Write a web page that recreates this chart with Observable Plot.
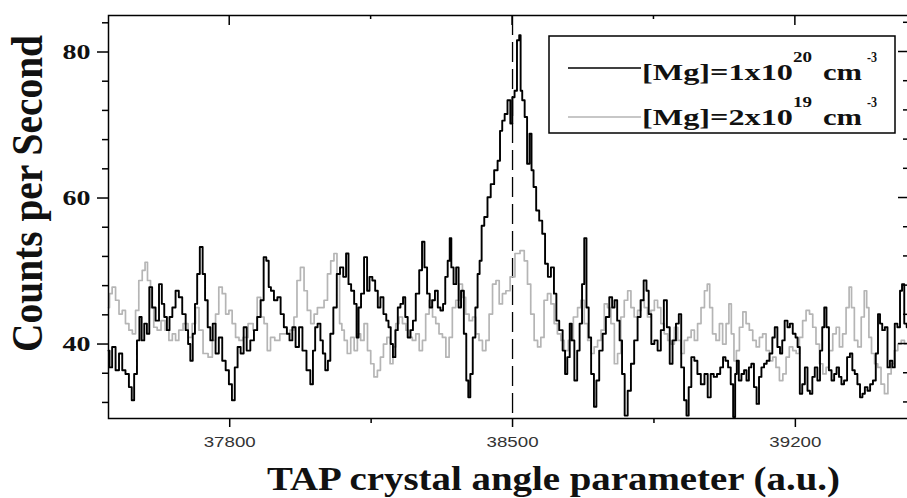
<!DOCTYPE html>
<html><head><meta charset="utf-8">
<script src="https://cdn.jsdelivr.net/npm/d3@7"></script>
<script src="https://cdn.jsdelivr.net/npm/@observablehq/plot@0.6"></script>
<style>
html,body{margin:0;padding:0;background:#fff;overflow:hidden}
#wrap{width:907px;height:498px;overflow:hidden;position:relative;background:#fff}
</style></head><body><div id="wrap"></div>
<script>
// ---- data ----
const blackAngle = [37500,37505,37513,37522,37530,37538,37546,37555,37560,37567,37574,37579,37585,37592,37598,37604,37612,37621,37629,37635,37641,37648,37654,37662,37670,37678,37687,37695,37699,37706,37711,37717,37722,37730,37736,37742,37749,37755,37761,37769,37777,37786,37794,37802,37809,37816,37823,37831,37838,37846,37856,37864,37872,37881,37887,37894,37899,37905,37914,37922,37930,37938,37945,37951,37959,37967,37976,37984,
37996,38003,38009,38014,38021,38028,38033,38040,38046,38052,38061,38069,38077,38085,38091,38097,38104,38112,38116,38122,38128,38137,38143,38149,38157,38163,38170,38176,38185,38190,38196,38201,38207,38213,38219,38226,38232,38237,38244,38251,38256,38265,38273,38279,38285,38292,38298,38304,38312,38318,38325,38331,38336,38343,38346,38351,38357,38364,38369,38376,38383,38388,38393,38398,38405,38411,38416,38421,
38426,38434,38442,38450,38459,38467,38471,38478,38483,38492,38497,38502,38508,38514,38519,38521,38527,38533,38539,38545,38549,38555,38562,38570,38577,
38584,38591,38599,38606,38611,38620,38628,38632,38639,38644,38649,38657,38663,38669,38675,38680,38686,38691,38698,38705,38710,38719,38727,38735,38744,38749,38756,38762,38768,38774,38781,38789,38797,38805,38814,38820,38829,38834,38840,38847,38855,38863,38871,38878,38886,38892,38900,38909,38914,38921,38928,38933,38939,38946,38954,38961,38971,38979,
38987,38994,39002,39010,39018,39024,39030,39037,39043,39049,39053,39057,39063,39070,39076,39082,39088,39094,39101,39107,39113,39119,39126,39132,39140,39146,39152,39159,39165,39170,39177,39184,39189,39198,39203,39208,39214,39220,39227,39233,39239,39245,39251,39258,39264,39269,39274,39280,39286,39293,39299,39305,39311,39317,39324,39332,39338,39344,39350,39357,39363,39369,39375,39382,39388,39396,39402,39407,39412,39418,39425,39431,39437,39443,39449,39456,39462,39466,39473,39478];
const blackCps = [39.1,36.8,39.6,36.4,38.7,36.4,35.9,34.1,32.3,35.9,40.5,43.7,40.5,42.8,41.4,47.8,45.0,43.2,48.2,45.5,43.7,41.9,43.7,45.0,47.3,46.4,44.1,41.9,40.0,37.7,41.4,45.5,49.6,53.3,49.6,46.0,42.3,40.5,42.8,38.7,40.9,37.7,36.4,34.5,32.3,36.8,39.6,38.7,42.3,39.1,40.5,41.9,43.7,46.0,51.9,51.4,47.8,47.3,46.0,46.4,44.1,42.3,41.4,40.5,42.3,39.6,42.3,39.1,
36.4,34.5,39.1,42.3,42.8,40.5,38.7,36.4,37.7,41.4,45.0,49.6,50.5,49.2,52.4,48.2,47.3,45.5,40.9,45.0,46.9,51.9,47.3,49.2,48.7,47.3,45.0,46.4,44.1,43.2,42.3,40.0,38.2,41.9,45.0,45.5,46.4,43.7,40.9,41.9,43.2,46.9,50.1,54.0,50.5,46.9,45.0,46.0,47.3,45.0,44.6,45.5,49.2,51.4,54.5,50.5,48.2,50.5,45.0,47.3,41.4,35.0,32.7,35.9,40.9,45.0,49.6,51.4,
56.2,57.4,60.1,61.9,63.8,65.1,69.2,70.6,71.5,73.4,70.2,73.8,74.7,81.6,82.3,74.7,73.4,71.1,64.7,68.8,63.8,61.5,58.3,56.9,55.1,
51.0,49.2,50.5,46.9,43.2,41.9,39.1,35.9,38.2,42.8,40.5,35.0,39.1,42.8,48.2,54.5,45.0,40.9,35.9,31.4,35.0,39.1,41.4,43.7,46.4,45.0,46.0,43.2,40.5,35.9,30.2,33.6,37.3,40.5,43.7,46.0,48.7,47.3,44.1,40.0,40.5,39.1,41.9,46.0,42.3,37.3,40.5,42.8,44.1,36.8,32.3,30.2,34.1,38.2,37.7,35.9,34.5,35.9,
32.7,35.9,35.5,35.9,36.8,38.2,37.7,36.8,34.5,30.0,35.9,37.7,35.0,35.9,36.4,35.0,36.8,37.3,34.1,31.8,35.5,36.8,37.3,37.7,38.7,40.9,42.3,39.6,38.7,40.5,43.2,42.3,42.8,41.4,40.9,39.6,33.2,34.5,36.8,33.6,33.2,35.5,36.8,35.0,39.1,42.3,45.0,42.3,36.4,35.0,35.9,36.8,35.5,34.5,35.0,38.2,38.7,36.4,35.9,34.5,32.7,33.2,34.1,33.6,34.5,35.0,38.7,44.1,42.8,41.9,42.3,36.8,37.7,36.8,42.8,42.3,47.3,48.2,42.8,42.3];

const grayAngle = [37500,37505,37513,37522,37530,37538,37546,37555,37563,37571,37579,37588,37593,37600,37608,37616,37625,37635,37645,37654,37662,37670,37678,37691,37703,37711,37720,37728,37740,37753,37761,37769,37777,37786,37794,37802,37810,37819,37827,37839,37852,37864,37872,37881,37889,37897,37905,37918,37930,37943,37955,37963,37970,37980,37988,37996,
38005,38013,38021,38029,38038,38046,38054,38062,38069,38075,38080,38087,38095,38104,38112,38120,38128,38137,38145,38153,38161,38170,38176,38185,38193,38201,38207,38215,38223,38232,38240,38248,38256,38265,38273,38281,38289,38298,38306,38314,38322,38331,38339,38347,38355,38364,38372,38380,38388,38397,38405,38413,38421,38430,38438,38446,38455,38463,38471,38479,38488,
38500,38512,38525,38533,38541,38549,38558,38566,38574,38582,38591,38599,38607,38615,38624,38632,38644,38657,38665,38673,38682,38690,38698,38706,38715,38723,38731,38739,38748,38756,38764,38772,38781,38789,38797,38805,38814,38822,38830,38838,38847,38855,38863,38871,38880,38888,38896,38905,38913,38921,38929,38938,38946,38954,38962,38971,38979,
38985,38991,38999,39008,39016,39024,39033,39038,39045,39051,39057,39066,39074,39082,39090,39099,39107,39115,39123,39132,39140,39148,39156,39165,39173,39181,39189,39198,39206,39214,39222,39231,39239,39247,39255,39264,39272,39280,39288,39297,39305,39313,39321,39330,39336,39342,39350,39359,39367,39374,39379,39385,39392,39400,39408,39416,39425,39433,39441,39449,39458,39466,39474];
const grayCps = [45.0,46.9,47.8,46.0,44.1,44.6,42.8,41.9,41.4,44.6,48.7,50.1,51.2,48.7,45.0,42.3,41.9,43.2,41.9,40.5,41.4,40.5,41.9,42.8,40.9,42.8,45.0,41.9,38.7,38.2,40.5,44.1,47.8,46.9,44.1,44.6,42.8,40.9,40.5,40.9,42.8,41.9,46.4,43.7,42.8,39.1,40.9,40.5,41.4,41.4,41.9,43.7,48.7,50.5,47.3,44.6,
42.8,44.1,45.0,45.0,46.0,49.6,51.4,52.4,49.6,42.8,41.9,40.5,38.7,40.9,39.1,41.4,40.5,42.8,39.1,37.3,35.5,36.4,38.2,40.0,40.9,37.3,39.6,42.8,43.7,42.8,41.9,40.9,40.5,41.4,39.1,40.5,44.1,46.0,43.7,42.8,41.4,40.9,38.2,40.9,45.0,46.0,48.2,46.4,44.1,43.2,43.7,41.4,40.5,39.1,40.5,44.1,48.2,48.7,45.5,46.9,47.3,
49.2,52.4,52.8,51.4,48.2,44.1,40.5,39.6,40.9,46.0,46.9,45.5,42.8,41.4,40.5,39.1,40.5,43.7,45.0,46.0,42.8,40.5,38.7,39.6,40.5,41.9,45.5,45.0,42.8,37.3,38.7,43.7,46.0,47.3,45.0,43.7,44.6,46.0,45.0,43.7,44.6,46.0,45.0,42.8,41.4,40.5,40.0,42.3,40.5,38.7,40.5,40.9,41.9,40.5,42.8,45.0,47.3,
48.2,45.0,41.4,40.5,42.8,40.0,42.8,45.5,41.4,37.7,39.1,42.3,44.4,42.8,41.9,40.5,39.6,40.9,41.4,39.1,37.7,38.2,36.8,35.0,35.9,38.2,39.6,39.1,38.7,40.9,43.2,44.6,44.1,42.3,40.0,37.3,35.9,36.8,39.1,41.4,42.3,39.6,41.4,45.0,47.8,45.0,40.5,39.6,43.7,47.3,45.0,40.9,38.7,37.3,36.8,34.5,33.2,35.9,37.3,39.1,40.0,40.5,40.0];

const xMajor = [37800, 38500, 39200];
const xMinor = [38150, 38850];
const yMajor = [40, 60, 80];
const yMinor = [32, 36, 44, 48, 52, 56, 64, 68, 72, 76, 84];
const markerAngle = [38500];
const seriesNames = ["[Mg]=1x10", "[Mg]=2x10"];
const seriesExp = ["20", "19"];
const seriesColors = ["#000000", "#b5b5b5"];
const unitText = "cm";
const unitExp = "-3";
const xTitle = "TAP crystal angle parameter (a.u.)";
const yTitle = "Counts per Second";

// ---- build ----
(function () {
const blackRows = blackAngle.map((a, i) => ({angle: a, cps: blackCps[i]}));
const grayRows = grayAngle.map((a, i) => ({angle: a, cps: grayCps[i]}));
const fmt = d3.format("d");

const chart = Plot.plot({
  width: 912, height: 498,
  marginLeft: 108, marginRight: 4, marginTop: 15, marginBottom: 80,
  x: {domain: [37500, 39480]},
  y: {domain: [29.8, 85]},
  marks: [
    Plot.ruleX(markerAngle, {stroke: "#000", strokeWidth: 1.3, strokeDasharray: "20,7"}),
    Plot.line(grayRows, {x: "angle", y: "cps", stroke: seriesColors[1], strokeWidth: 1.7, curve: "step"}),
    Plot.line(blackRows, {x: "angle", y: "cps", stroke: seriesColors[0], strokeWidth: 1.9, curve: "step"}),
    Plot.axisY(yMajor, {tickSize: 11, tickPadding: 7, tickFormat: fmt, label: null, strokeWidth: 1.5}),
    Plot.axisY(yMinor, {tickSize: 6, fill: "none", label: null, strokeWidth: 1.5}),
    Plot.axisX(xMajor, {tickSize: 9, tickPadding: 9, tickFormat: fmt, label: null, strokeWidth: 1.5}),
    Plot.axisX(xMinor, {tickSize: 5, fill: "none", label: null, strokeWidth: 1.5}),
    Plot.frame({stroke: "#000", strokeWidth: 1.5})
  ]
});
chart.style.maxWidth = "none";
chart.style.background = "#fff";
document.getElementById("wrap").append(chart);

const svg = d3.select(chart);
svg.selectAll('g[aria-label="x-axis tick label"] text')
  .attr("font-family", "Liberation Sans").attr("font-size", 15).attr("fill", "#333")
  .attr("textLength", 52).attr("lengthAdjust", "spacingAndGlyphs");
svg.selectAll('g[aria-label="y-axis tick label"] text')
  .attr("font-family", "Liberation Serif").attr("font-weight", "bold").attr("font-size", 22).attr("fill", "#111")
  .attr("textLength", 28).attr("lengthAdjust", "spacingAndGlyphs");

const sx = chart.scale("x"), sy = chart.scale("y");
const X = v => sx.apply(v), Y = v => sy.apply(v);
const topY = Y(85), rightX = X(39480);
const extra = svg.append("g").attr("stroke", "#000").attr("stroke-width", 1.5);
xMajor.forEach(v => extra.append("line").attr("x1", X(v)).attr("x2", X(v)).attr("y1", topY).attr("y2", topY + 10));
xMinor.forEach(v => extra.append("line").attr("x1", X(v)).attr("x2", X(v)).attr("y1", topY).attr("y2", topY + 4));
yMajor.forEach(v => extra.append("line").attr("y1", Y(v)).attr("y2", Y(v)).attr("x1", rightX).attr("x2", rightX - 10));
yMinor.forEach(v => extra.append("line").attr("y1", Y(v)).attr("y2", Y(v)).attr("x1", rightX).attr("x2", rightX - 5));

// axis titles
svg.append("text")
  .attr("transform", "translate(42,193.5) scale(1.25,1) rotate(-90)")
  .attr("text-anchor", "middle").attr("font-family", "Liberation Serif").attr("font-weight", "bold")
  .attr("font-size", 35).attr("fill", "#111").attr("textLength", 317).attr("lengthAdjust", "spacingAndGlyphs")
  .text(yTitle);
svg.append("text")
  .attr("x", 267).attr("y", 490).attr("text-anchor", "start")
  .attr("font-family", "Liberation Serif").attr("font-weight", "bold").attr("font-size", 34).attr("fill", "#111")
  .attr("textLength", 573).attr("lengthAdjust", "spacingAndGlyphs")
  .text(xTitle);

// legend
const lg = svg.append("g").attr("text-anchor", "start");
lg.append("rect").attr("x", 549).attr("y", 36).attr("width", 346).attr("height", 97)
  .attr("fill", "#fff").attr("stroke", "#000").attr("stroke-width", 1.5);
[0, 1].forEach(i => {
  const base = i === 0 ? 80 : 125;
  const ly = i === 0 ? 68 : 117;
  lg.append("line").attr("x1", 568).attr("x2", 641).attr("y1", ly).attr("y2", ly)
    .attr("stroke", seriesColors[i]).attr("stroke-width", 1.5);
  const t = (txt, x, y, fs, len) => lg.append("text").attr("x", x).attr("y", y).attr("text-anchor", "start")
    .attr("font-family", "Liberation Serif").attr("font-weight", "bold").attr("font-size", fs)
    .attr("fill", "#111").attr("textLength", len).attr("lengthAdjust", "spacingAndGlyphs").text(txt);
  t(seriesNames[i], 642, base, 24, 151);
  t(seriesExp[i], 793, base - 18, 14, 19);
  t(unitText, 823, base, 24, 39);
  t(unitExp, 867, base - 18, 14, 10);
});
})();
</script></body></html>
